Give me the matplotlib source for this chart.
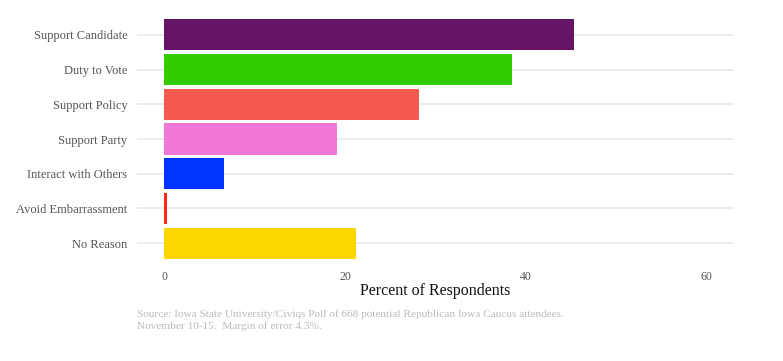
import matplotlib
matplotlib.use("Agg")
import matplotlib.pyplot as plt

reasons = ["Support Candidate", "Duty to Vote", "Support Policy", "Support Party",
           "Interact with Others", "Avoid Embarrassment", "No Reason"]
percents = [45.3, 38.5, 28.2, 19.1, 6.6, 0.3, 21.2]
colors = ["#661466", "#33cc00", "#f55a50", "#f278d8", "#0033ff", "#ff2a10", "#ffd700"]
xticks = [0, 20, 40, 60]

plt.rcParams["font.family"] = ["Liberation Serif", "DejaVu Serif"]

fig = plt.figure(figsize=(7.83, 3.61), dpi=100)
ax = fig.add_axes([0.175, 0.2687, 0.7625, 0.6925])

ypos = list(range(len(reasons)))
ax.barh(ypos, percents, height=0.9, color=colors, zorder=2)
ax.set_yticks(ypos)
ax.set_yticklabels(reasons, fontsize=9, color="#555555")
ax.set_ylim(len(reasons) - 0.4, -0.6)
ax.set_xlim(-3, 63)
ax.set_xticks(xticks)
ax.set_xticklabels([str(t) for t in xticks], fontsize=8.5, color="#555555")

ax.grid(axis="y", color="#ebebeb", linewidth=1.3, zorder=0)
ax.grid(axis="x", visible=False)
ax.tick_params(axis="both", length=0)
ax.tick_params(axis="y", pad=7)
ax.tick_params(axis="x", pad=5)
for s in ax.spines.values():
    s.set_visible(False)

ax.set_xlabel("Percent of Respondents", fontsize=11.5, color="#111111", labelpad=0)

fig.text(137 / 783, 1 - 309 / 361,
         "Source: Iowa State University/Civiqs Poll of 668 potential Republican Iowa Caucus attendees.\n"
         "November 10-15.  Margin of error 4.3%.",
         fontsize=8.1, color="#bbbbbb", va="top", ha="left", linespacing=1.4)

fig.savefig("out.png", dpi=100)
